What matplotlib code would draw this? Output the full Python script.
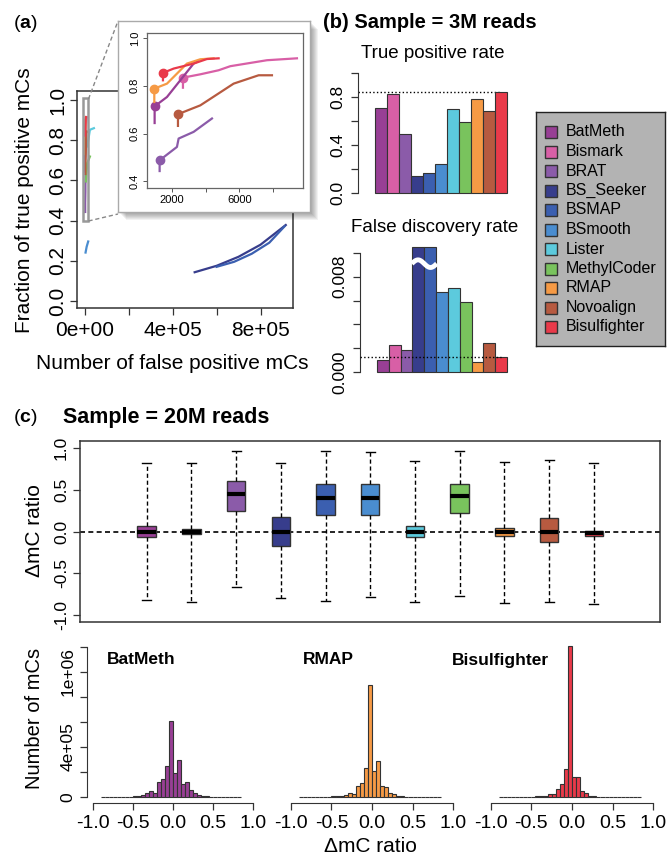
import numpy as np
import matplotlib
matplotlib.use('Agg')
import matplotlib.pyplot as plt
from matplotlib import font_manager
from matplotlib.patches import Rectangle
from matplotlib.lines import Line2D

plt.rcParams['font.family'] = ['Liberation Sans', 'DejaVu Sans']
plt.rcParams['mathtext.fontset'] = 'custom'
plt.rcParams['mathtext.rm'] = 'Liberation Sans'
plt.rcParams['mathtext.bf'] = 'Liberation Sans:bold'

# ---------------- data ----------------
tools = ['BatMeth', 'Bismark', 'BRAT', 'BS_Seeker', 'BSMAP', 'BSmooth',
         'Lister', 'MethylCoder', 'RMAP', 'Novoalign', 'Bisulfighter']
colors = ['#983f95', '#d85fa6', '#8b5ba9', '#373d8c', '#3b5fb0', '#4a8dd0',
          '#5ccadd', '#79c35d', '#f69a45', '#b75a40', '#e93a4a']

# (a) false positives vs fraction of true positives
roc_fp = {
    'BatMeth': [972, 972, 1704, 2494, 3285, 3482],
    'Bismark': [2652, 2652, 3680, 4767, 5458, 7632, 9411],
    'BRAT': [1269, 1269, 2296, 2395, 3285, 4372],
    'BS_Seeker': [5.0e5, 6.0e5, 7.0e5, 8.0e5, 9.15e5],
    'BSMAP': [6.0e5, 6.8e5, 7.6e5, 8.4e5, 9.1e5],
    'BSmooth': [3000, 8000, 15000],
    'Lister': [10600, 22800, 41000],
    'MethylCoder': [4600, 10600, 22800],
    'RMAP': [953, 953, 1704, 2889, 3680, 4470],
    'Novoalign': [2356, 2356, 3680, 5656, 7138, 7929],
    'Bisulfighter': [1466, 1466, 2099, 3285, 4075, 4767],
}
roc_tpr = {
    'BatMeth': [0.644, 0.714, 0.753, 0.823, 0.893, 0.900],
    'Bismark': [0.792, 0.834, 0.848, 0.865, 0.882, 0.907, 0.915],
    'BRAT': [0.443, 0.488, 0.544, 0.579, 0.607, 0.663],
    'BS_Seeker': [0.143, 0.175, 0.220, 0.280, 0.378],
    'BSMAP': [0.170, 0.195, 0.235, 0.290, 0.372],
    'BSmooth': [0.241, 0.270, 0.296],
    'Lister': [0.769, 0.852, 0.860],
    'MethylCoder': [0.595, 0.686, 0.719],
    'RMAP': [0.732, 0.788, 0.809, 0.893, 0.911, 0.915],
    'Novoalign': [0.632, 0.681, 0.718, 0.809, 0.844, 0.844],
    'Bisulfighter': [0.823, 0.854, 0.872, 0.893, 0.912, 0.915],
}
inset_tools = ['BRAT', 'Novoalign', 'Bismark', 'BatMeth', 'RMAP', 'Bisulfighter']
marker_idx = 1

# (b) 3M reads
tpr = [0.711, 0.828, 0.492, 0.139, 0.169, 0.239, 0.700, 0.592, 0.781, 0.681, 0.844]
fdr = [0.00098, 0.0023, 0.00185, 0.30, 0.25, 0.00675, 0.00703, 0.00588,
       0.00084, 0.00244, 0.00123]
fdr_cap = 0.0105   # BS_Seeker / BSMAP are off the scale

# (c) 20M reads, delta mC ratio
box_med = [0.0, 0.0, 0.45, 0.0, 0.40, 0.40, 0.0, 0.43, 0.0, 0.0, -0.02]
box_q1 = [-0.07, -0.03, 0.25, -0.17, 0.20, 0.20, -0.07, 0.22, -0.05, -0.13, -0.05]
box_q3 = [0.07, 0.03, 0.61, 0.17, 0.57, 0.57, 0.07, 0.57, 0.045, 0.16, 0.01]
box_lo = [-0.82, -0.85, -0.66, -0.80, -0.83, -0.79, -0.85, -0.77, -0.86, -0.85, -0.87]
box_hi = [0.82, 0.82, 0.96, 0.82, 0.96, 0.95, 0.84, 0.96, 0.83, 0.86, 0.82]

hist_edges = np.round(np.arange(-0.9, 0.851, 0.05), 3)
hist_names = ['BatMeth', 'RMAP', 'Bisulfighter']
# counts in thousands per 0.05 bin, from -0.9 to 0.85
hist_batmeth = [0, 1, 1, 1, 2, 2, 3, 4, 5, 11, 16, 29, 48, 35, 123, 141, 248, 608,
                195, 293, 107, 117, 53, 29, 19, 11, 5, 3, 2, 2, 1, 1, 1, 0, 0]
hist_rmap = [0, 1, 1, 1, 2, 2, 3, 4, 5, 6, 11, 19, 32, 27, 85, 112, 232, 899,
             205, 285, 88, 77, 35, 21, 11, 5, 4, 3, 2, 2, 1, 1, 1, 0, 0]
hist_bisulf = [0, 1, 1, 1, 1, 2, 2, 3, 4, 5, 7, 11, 21, 24, 61, 104, 227, 1208,
               157, 163, 45, 32, 11, 5, 4, 3, 2, 2, 1, 1, 1, 1, 0, 0, 0]
hist_counts = [hist_batmeth, hist_rmap, hist_bisulf]

# ---------------- figure ----------------
W, H = 670, 857
fig = plt.figure(figsize=(W/100, H/100), dpi=100)


def rect(l, t, r, b):
    return [l/W, 1-b/H, (r-l)/W, (b-t)/H]


def ft(x, y, s, **kw):
    fig.text(x/W, 1-y/H, s, **kw)


def rot_y(ax):
    plt.setp(ax.get_yticklabels(), rotation=90, va='center')


col = dict(zip(tools, colors))

# ===== (a) main =====
ax = fig.add_axes(rect(77, 91, 293, 308))
ax.set_zorder(0)
for t in tools:
    ax.plot(roc_fp[t], roc_tpr[t], color=col[t], lw=1.6)
ax.set_xlim(-3.6e4, 9.48e5)
ax.set_ylim(-0.035, 1.045)
ax.set_xticks([0, 2e5, 4e5, 6e5, 8e5])
ax.set_xticklabels(['0e+00', '', '4e+05', '', '8e+05'])
ax.set_yticks([0, 0.2, 0.4, 0.6, 0.8, 1.0])
ax.set_yticklabels(['0.0', '0.2', '0.4', '0.6', '0.8', '1.0'])
ax.tick_params(length=5, width=0.9, labelsize=15, color='#333')
ax.tick_params(axis='x', pad=4)
ax.tick_params(axis='y', pad=2)
rot_y(ax)
for s in ax.spines.values():
    s.set_color('#333')
    s.set_linewidth(1.1)
ax.add_patch(Rectangle((-1.05e4, 0.398), 2.55e4, 0.61, fill=False,
                       ec='#999999', lw=1.8, zorder=5))
ft(25, 200, 'Fraction of true positive mCs', rotation=90, ha='center', va='center', fontsize=15)
ft(172, 363, 'Number of false positive mCs', ha='center', va='center', fontsize=15)

# connectors
fig.add_artist(Line2D([88.5/W, 118/W], [1-99/H, 1-21/H], ls=(0, (3, 2)), color='#888', lw=1, zorder=1.5))
fig.add_artist(Line2D([88.5/W, 118/W], [1-221/H, 1-214/H], ls=(0, (3, 2)), color='#888', lw=1, zorder=1.5))

# shadow + frame
for s in range(1, 9):
    fig.add_artist(Rectangle(((118+s)/W, 1-(212+s)/H), 192/W, 191/H,
                             transform=fig.transFigure, fc='black', ec='none',
                             alpha=0.05, zorder=1))
fr = fig.add_axes(rect(118, 21, 310, 212))
fr.set_zorder(2)
fr.set_xticks([])
fr.set_yticks([])
for s in fr.spines.values():
    s.set_color('#aaaaaa')
    s.set_linewidth(1)

ins = fig.add_axes(rect(147, 33, 303, 188))
ins.set_zorder(3)
ins.patch.set_alpha(0)
for t in inset_tools:
    ins.plot(roc_fp[t], roc_tpr[t], color=col[t], lw=1.6)
    ins.plot(roc_fp[t][marker_idx], roc_tpr[t][marker_idx], 'o', color=col[t], ms=6)
ins.set_xlim(520, 9770)
ins.set_ylim(0.372, 1.021)
ins.set_xticks([2000, 4000, 6000, 8000])
ins.set_xticklabels(['2000', '', '6000', ''])
ins.set_yticks([0.4, 0.6, 0.8, 1.0])
ins.set_yticklabels(['0.4', '0.6', '0.8', '1.0'])
ins.tick_params(length=3, width=0.7, labelsize=8, color='#555', pad=2)
rot_y(ins)
for s in ins.spines.values():
    s.set_color('#666')
    s.set_linewidth(0.9)

ft(13, 23, r'($\mathbf{a}$)', ha='left', va='center', fontsize=14)

# ===== (b) =====
xb = np.arange(len(tools))
axt = fig.add_axes(rect(358, 68.2, 519, 197.8))
axt.bar(xb, tpr, width=1.0, color=colors, edgecolor='#333', lw=0.8, zorder=2)
axt.plot([-1.917, xb[-1]], [tpr[-1], tpr[-1]], ls=':', color='black', lw=1, zorder=1)
axt.set_xlim(-1.917, 11.5)
axt.set_ylim(-0.04, 1.04)
axt.set_yticks([0, 0.2, 0.4, 0.6, 0.8, 1.0])
axt.set_yticklabels(['0.0', '', '0.4', '', '0.8', ''])
axt.set_xticks([])

axf = fig.add_axes(rect(360, 248.2, 519, 376.8))
axf.bar(xb, np.minimum(fdr, fdr_cap), width=1.0, color=colors, edgecolor='#333',
        lw=0.8, zorder=2, clip_on=False)
axf.plot([-1.94, xb[-1]], [fdr[-1], fdr[-1]], ls=':', color='black', lw=1, zorder=3)
tt = np.linspace(0, 2*np.pi, 60)
axf.plot(np.linspace(2.44, 4.55, 60), 0.0091 + 0.00032*np.sin(tt), color='white',
         lw=3.5, zorder=4, solid_capstyle='butt')
axf.set_xlim(-1.94, 11.51)
axf.set_ylim(-0.0004, 0.0104)
axf.set_yticks([0, 0.002, 0.004, 0.006, 0.008, 0.010])
axf.set_yticklabels(['0.000', '', '', '', '0.008', ''])
axf.set_xticks([])

for a, top in ((axt, 1.0), (axf, 0.010)):
    for k in ('top', 'right', 'bottom'):
        a.spines[k].set_visible(False)
    a.spines['left'].set_bounds(0, top)
    a.spines['left'].set_color('#333')
    a.patch.set_alpha(0)
    a.tick_params(length=5, width=0.9, labelsize=12.5, color='#333', pad=4)
    rot_y(a)

ft(323, 23, '(b) Sample = 3M reads', ha='left', va='center', fontsize=14.5, fontweight='bold')
ft(433, 53, 'True positive rate', ha='center', va='center', fontsize=13.5)
ft(435, 228, 'False discovery rate', ha='center', va='center', fontsize=13.5)

# legend
lg = fig.add_axes(rect(536, 112, 665, 346))
lg.set_facecolor('#b3b3b3')
lg.set_xlim(0, 1)
lg.set_ylim(0, 1)
lg.set_xticks([])
lg.set_yticks([])
for s in lg.spines.values():
    s.set_color('#222')
    s.set_linewidth(1)
for i, (name, c) in enumerate(zip(tools, colors)):
    yc = 1 - (20 + 19.5*i)/234
    lg.add_patch(Rectangle((9/129, yc - 6/234), 12/129, 12/234, fc=c, ec='#333', lw=1))
    lg.text(30/129, yc, name, va='center', ha='left', fontsize=11.5)

# ===== (c) boxplot =====
axb = fig.add_axes(rect(80, 441, 660, 622))
axb.axhline(0, color='black', lw=1.2, ls=(0, (3, 2)), zorder=1)
stats = [dict(med=m, q1=a, q3=b, whislo=lo, whishi=hi, fliers=[])
         for m, a, b, lo, hi in zip(box_med, box_q1, box_q3, box_lo, box_hi)]
bp = axb.bxp(stats, positions=np.arange(1, len(tools)+1), widths=0.41,
             patch_artist=True, showfliers=False, capwidths=0.2,
             boxprops=dict(edgecolor='#333', lw=1),
             whiskerprops=dict(ls=(0, (3, 2)), lw=1, color='black'),
             capprops=dict(color='black', lw=1),
             medianprops=dict(color='black', lw=3, solid_capstyle='butt'))
for patch, c in zip(bp['boxes'], colors):
    patch.set_facecolor(c)
    patch.set_zorder(2)
axb.set_xlim(-0.49, 12.48)
axb.set_ylim(-1.084, 1.084)
axb.set_xticks([])
axb.set_yticks([-1, -0.5, 0, 0.5, 1])
axb.set_yticklabels(['-1.0', '-0.5', '0.0', '0.5', '1.0'])
axb.tick_params(length=5, width=0.9, labelsize=12.5, color='#333', pad=3)
rot_y(axb)
for s in axb.spines.values():
    s.set_color('#333')
    s.set_linewidth(1.1)

# condensed bold title if a narrow face is installed, else smaller regular bold
names = {f.name for f in font_manager.fontManager.ttflist}
if 'Liberation Sans Narrow' in names:
    c_title = dict(family='Liberation Sans Narrow', fontsize=18)
else:
    c_title = dict(family='Liberation Sans', fontsize=15.5)
ft(13, 418, r'($\mathbf{c}$)', ha='left', va='center', fontsize=14)
ft(63, 418, 'Sample = 20M reads', ha='left', va='center', fontweight='bold', **c_title)
ft(35, 531, '\u0394mC ratio', rotation=90, ha='center', va='center', fontsize=15)

# ===== (c) histograms =====
hist_px = [(86.6, 259.4), (284.5, 459.5), (484.2, 659.8)]
title_x = [-0.825, -0.85, -1.476]
centers = (hist_edges[:-1] + hist_edges[1:]) / 2
hist_cols = [col[n] for n in hist_names]
for i, (name, cnt) in enumerate(zip(hist_names, hist_counts)):
    l, r = hist_px[i]
    ah = fig.add_axes(rect(l, 641, r, 803))
    ah.hist(centers, bins=hist_edges, weights=np.array(cnt)*1e3,
            color=hist_cols[i], edgecolor='#333', lw=0.8)
    ah.set_xlim(-1.08, 1.08)
    ah.set_ylim(-0.048e6, 1.248e6)
    ah.patch.set_alpha(0)
    for k in ('top', 'right'):
        ah.spines[k].set_visible(False)
    ah.spines['bottom'].set_bounds(-1, 1)
    ah.spines['bottom'].set_color('#333')
    ah.set_xticks([-1, -0.5, 0, 0.5, 1])
    ah.set_xticklabels(['-1.0', '-0.5', '0.0', '0.5', '1.0'])
    ah.tick_params(axis='x', length=5, width=0.9, labelsize=14, color='#333', pad=4)
    if i == 0:
        ah.spines['left'].set_bounds(0, 1.2e6)
        ah.spines['left'].set_color('#333')
        ah.set_yticks(np.arange(0, 1.21e6, 2e5))
        ah.set_yticklabels(['0', '', '4e+05', '', '', '1e+06', ''])
        ah.tick_params(axis='y', length=5, width=0.9, labelsize=12.5, color='#333', pad=3)
        rot_y(ah)
    else:
        ah.spines['left'].set_visible(False)
        ah.set_yticks([])
    ah.text(title_x[i], 1.096e6, name, ha='left', va='center', fontsize=12.5,
            fontweight='bold')

ft(35, 718, 'Number of mCs', rotation=90, ha='center', va='center', fontsize=14.5)
ft(370, 847, '\u0394mC ratio', ha='center', va='center', fontsize=15)

fig.savefig('out.png', dpi=100)
